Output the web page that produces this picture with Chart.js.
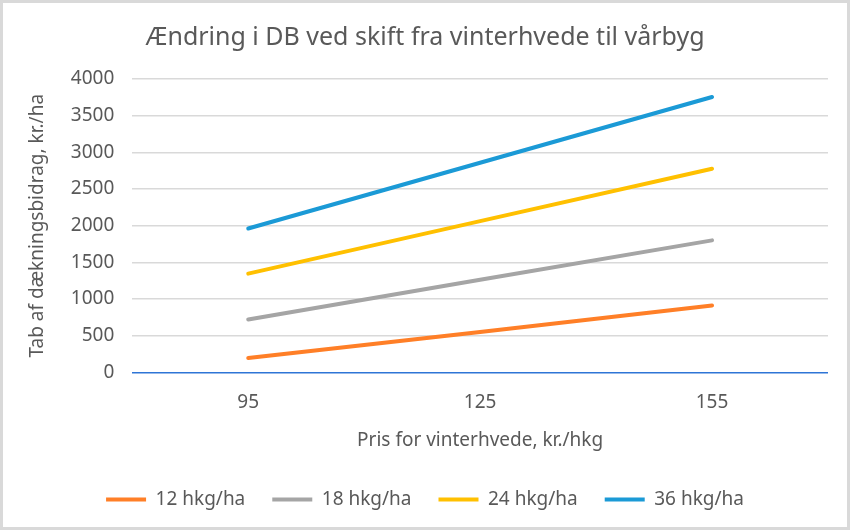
<!DOCTYPE html>
<html>
<head>
<meta charset="utf-8">
<script src="https://cdn.jsdelivr.net/npm/chart.js@4"></script>
<style>
  body { margin: 0; background: #fff; }
  #wrap { width: 850px; height: 530px; box-sizing: border-box; border: 3px solid #d9d9d9; background: #fff; }
</style>
</head>
<body>
<div id="wrap"><canvas id="myChart" width="844" height="524"></canvas></div>
<script>
// x categories: price for winter wheat, kr./hkg
var prices = ['95', '125', '155'];
// loss of contribution margin per yield difference
var loss12 = [195, 552, 912];
var loss18 = [722, 1262, 1800];
var loss24 = [1346, 2062, 2776];
var loss36 = [1962, 2858, 3754];
var seriesNames = ['12 hkg/ha', '18 hkg/ha', '24 hkg/ha', '36 hkg/ha'];
var seriesColors = ['#ff7f27', '#a5a5a5', '#ffc000', '#1b9ad6'];

var font = "'Noto Sans', 'Open Sans', sans-serif";
var grey = '#595959';

function makeSet(i, values) {
    return {
        label: seriesNames[i],
        data: values,
        borderColor: seriesColors[i],
        backgroundColor: seriesColors[i],
        borderWidth: 4,
        pointRadius: 0,
        borderCapStyle: 'round',
        tension: 0
    };
}

var ctx = document.getElementById('myChart').getContext('2d');
var myChart = new Chart(ctx, {
    type: 'line',
    data: {
        labels: prices,
        datasets: [
            makeSet(0, loss12),
            makeSet(1, loss18),
            makeSet(2, loss24),
            makeSet(3, loss36)
        ]
    },
    options: {
        responsive: false,
        animation: false,
        layout: { padding: { left: 19, right: 19, top: 8, bottom: 8 } },
        plugins: {
            title: {
                display: true,
                text: 'Ændring i DB ved skift fra vinterhvede til vårbyg',
                color: grey,
                font: { family: font, size: 25, weight: 'normal' },
                padding: { top: 12, bottom: 26 }
            },
            legend: {
                position: 'bottom',
                labels: {
                    color: grey,
                    font: { family: font, size: 19 },
                    usePointStyle: true,
                    pointStyle: 'line',
                    pointStyleWidth: 40,
                    padding: 27
                }
            },
            tooltip: { enabled: false }
        },
        scales: {
            x: {
                offset: true,
                grid: { display: false },
                border: { display: false },
                ticks: { color: grey, font: { family: font, size: 19 }, padding: 11 },
                title: {
                    display: true,
                    text: 'Pris for vinterhvede, kr./hkg',
                    color: grey,
                    font: { family: font, size: 19 },
                    padding: { top: 4, bottom: 11 }
                }
            },
            y: {
                min: 0,
                max: 4000,
                ticks: {
                    stepSize: 500,
                    color: grey,
                    font: { family: font, size: 19 },
                    padding: 18,
                    callback: function (v) { return String(v); }
                },
                grid: {
                    color: function (c) { return c.tick.value === 0 ? '#2e75d6' : '#d9d9d9'; },
                    lineWidth: 1.5,
                    drawTicks: false
                },
                border: { display: false },
                title: {
                    display: true,
                    text: 'Tab af dækningsbidrag, kr./ha',
                    color: grey,
                    font: { family: font, size: 19 },
                    padding: { bottom: 4 }
                }
            }
        }
    }
});
</script>
</body>
</html>
